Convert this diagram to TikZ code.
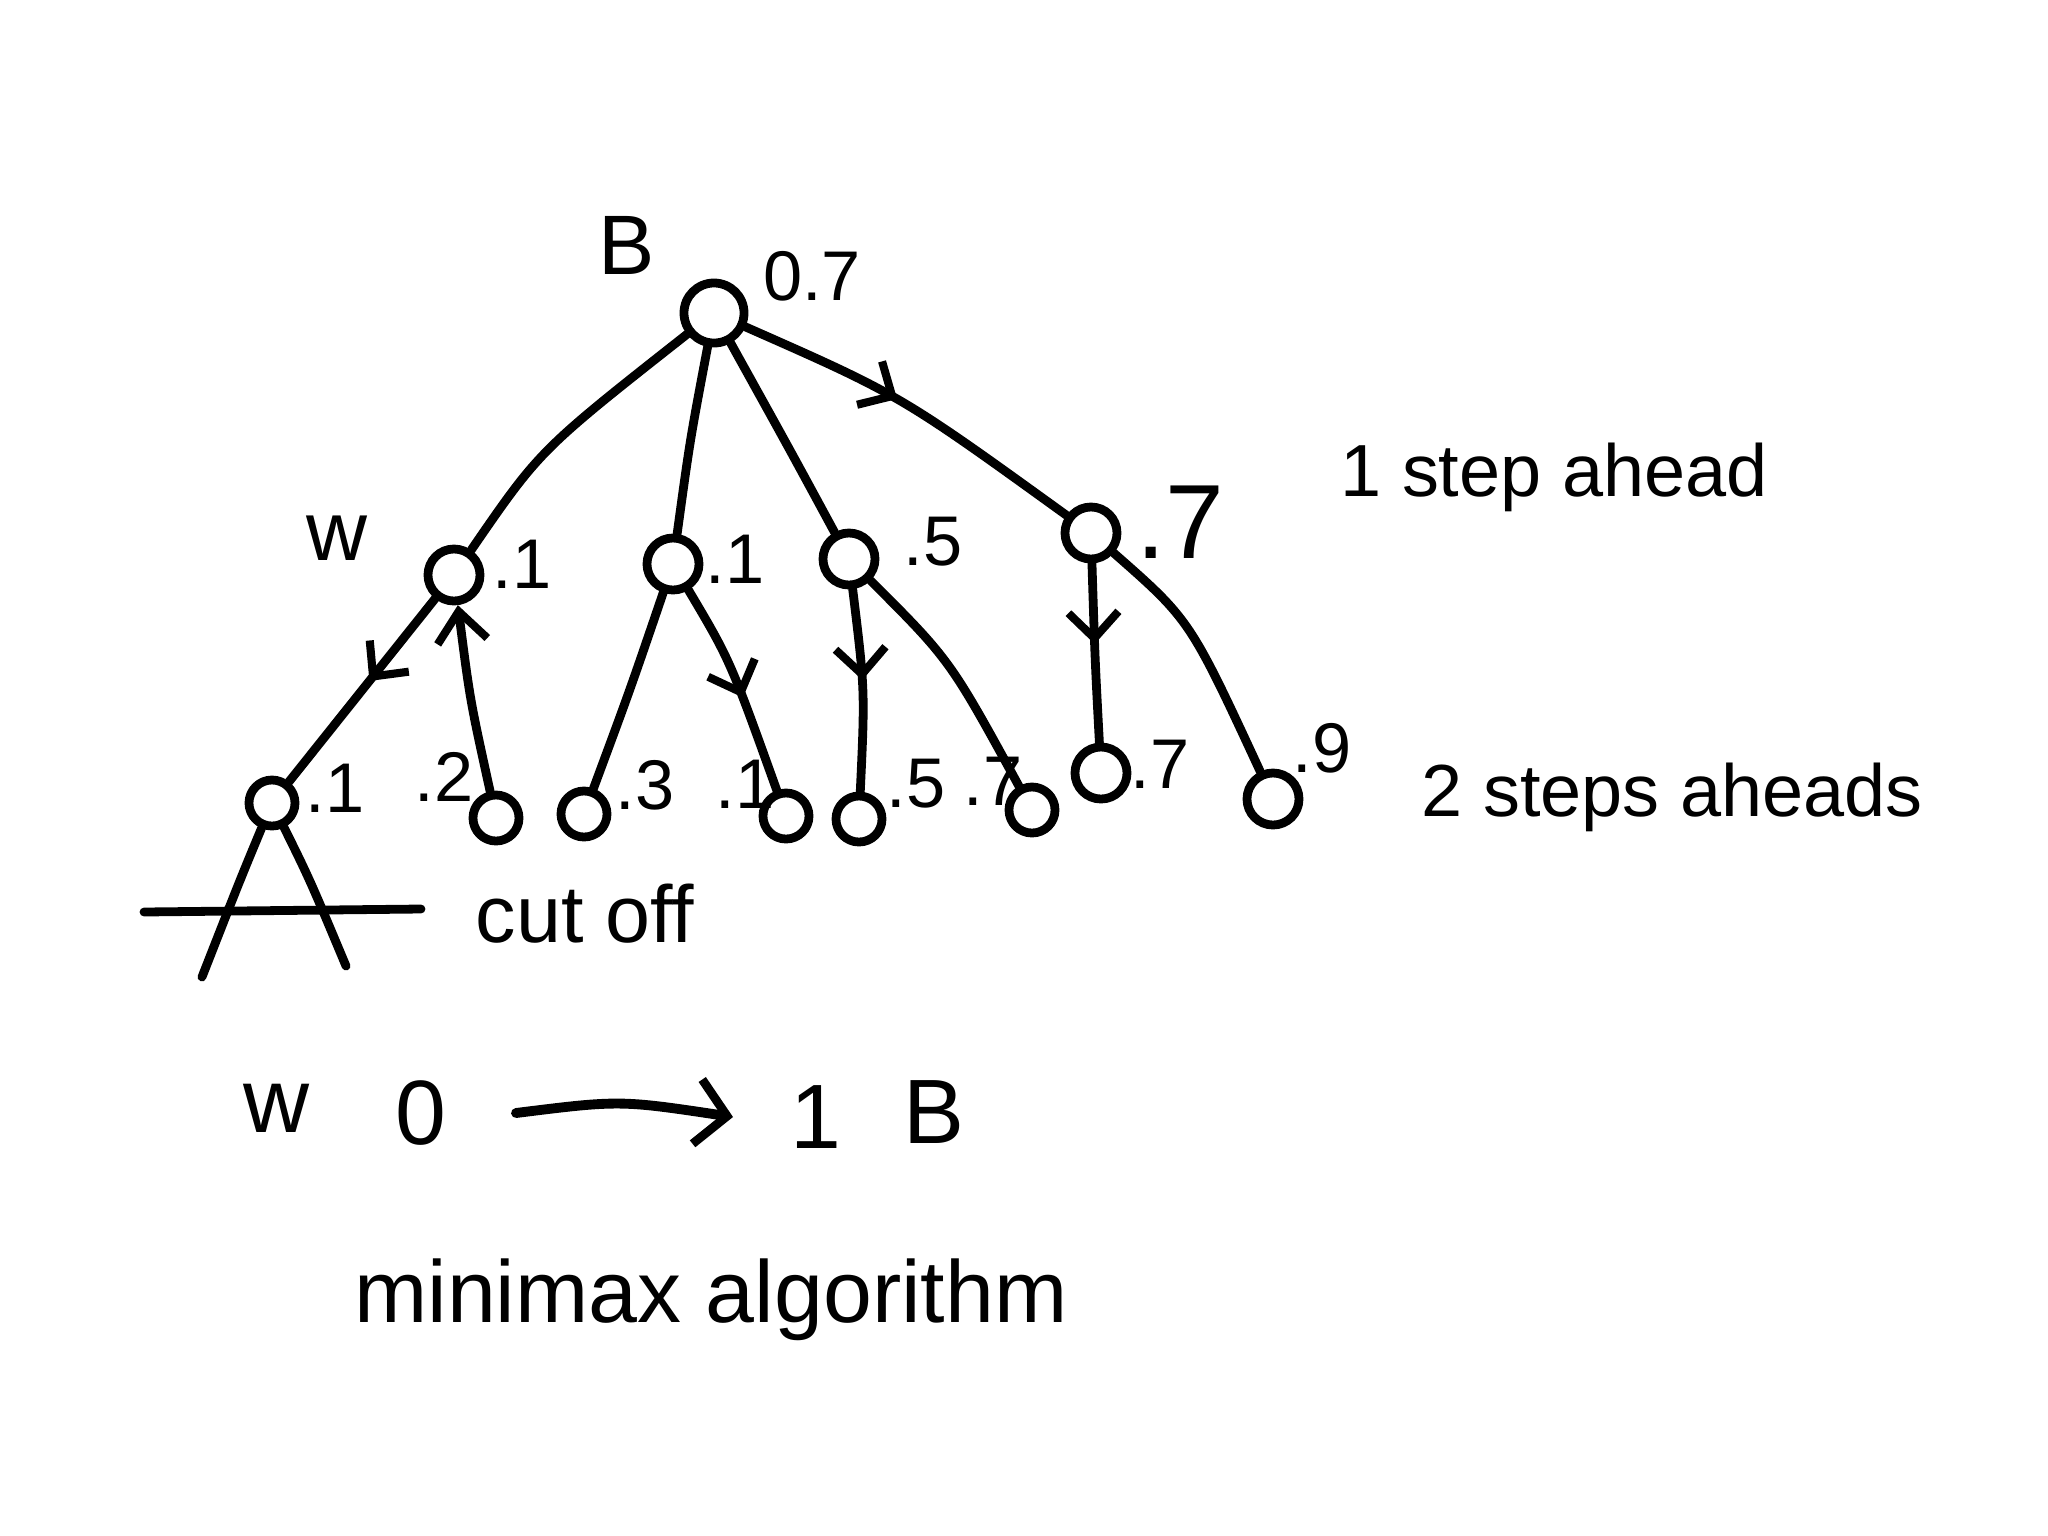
\documentclass[tikz,border=0pt]{standalone}
\usepackage{fontspec}
\setmainfont{Liberation Sans}
\usetikzlibrary{arrows.meta,decorations.markings}
\begin{document}
\begin{tikzpicture}[x=0.01cm,y=-0.01cm,
  line cap=round, line join=round,
  st/.style={circle,draw,line width=2.5pt,minimum size=0.46cm,inner sep=0pt},
  st1/.style={st,minimum size=0.52cm},
  st0/.style={st,minimum size=0.6cm},
  lbl/.style={font=\fontsize{20}{22}\selectfont,inner sep=0pt},
  big/.style={font=\fontsize{26}{28}\selectfont,inner sep=0pt},
  edge/.style={draw,line width=2.5pt},
  midarrow/.style={postaction={decorate},decoration={markings,mark=at position #1 with {\arrow{Straight Barb[length=2.6mm,width=5mm,line width=2.3pt]}}}},
]
\useasboundingbox (0,0) rectangle (2048,1536);

% root
\node[st0] (root) at (714,313) {};
\node[lbl,font=\fontsize{24}{26}\selectfont] (B) at (627,245) {B};
\node[lbl] (rv) at (812,276) {0.7};

% level 1
\node[st1] (n1) at (454,575) {};
\node[lbl,font=\fontsize{24}{26}\selectfont] (w1) at (337,538) {w};
\node[lbl] (v1) at (522,564) {.1};
\node[st1] (n2) at (673,564) {};
\node[lbl] (v2) at (735,559) {.1};
\node[st1] (n3) at (849,559) {};
\node[lbl] (v3) at (933,542) {.5};
\node[st1] (n4) at (1091,533) {};
\node[lbl,font=\fontsize{30}{32}\selectfont] (v4) at (1180,522) {.7};

% level 2
\node[st] (a) at (272,803) {};
\node[lbl] (va) at (335,788) {.1};
\node[st] (b) at (496,818) {};
\node[lbl] (vb) at (444,777) {.2};
\node[st] (c) at (584,814) {};
\node[lbl] (vc) at (645,785) {.3};
\node[st] (d) at (786,816) {};
\node[lbl] (vd) at (745,784) {.1};
\node[st] (e) at (859,819) {};
\node[lbl] (ve) at (916,784) {.5};
\node[st] (f) at (1032,810) {};
\node[lbl] (vf) at (993,781) {.7};
\node[st1] (g) at (1101,773) {};
\node[lbl] (vg) at (1160,764) {.7};
\node[st1] (h) at (1273,799) {};
\node[lbl] (vh) at (1322,748) {.9};

% side texts
\node[lbl,font=\fontsize{21}{23}\selectfont] (s1) at (1554,477) {1 step ahead};
\node[lbl,font=\fontsize{21}{23}\selectfont] (s2) at (1672,797) {2 steps aheads};
\node[lbl,font=\fontsize{23}{25}\selectfont] (co) at (585,914) {cut off};
\node[lbl,font=\fontsize{25}{27}\selectfont] (mm) at (711,1300) {minimax algorithm};

% edges root
\draw[edge] (root) .. controls (540,450) .. (n1);
\draw[edge] (root) .. controls (690,440) .. (n2);
\draw[edge] (root) .. controls (790,450) .. (n3);
\draw[edge,midarrow=0.45] (root) .. controls (900,395) .. (n4);

% level 1 -> 2
\draw[edge,midarrow=0.45] (n1) -- (a);
\draw[edge,-{Straight Barb[length=3mm,width=5mm,line width=2.3pt]}] (b) .. controls (470,700) .. (n1);
\draw[edge] (n2) .. controls (630,690) .. (c);
\draw[edge,midarrow=0.55] (n2) .. controls (730,660) .. (d);
\draw[edge,midarrow=0.45] (n3) .. controls (865,690) .. (e);
\draw[edge] (n3) .. controls (950,660) .. (f);
\draw[edge,midarrow=0.45] (n4) .. controls (1095,660) .. (g);
\draw[edge] (n4) .. controls (1190,620) .. (h);

% cut off
\coordinate (cl) at (202,977);
\coordinate (cr) at (346,966);
\coordinate (hl) at (144,912);
\coordinate (hr) at (421,909);
\draw[edge] (a) .. controls (240,880) .. (cl);
\draw[edge] (a) .. controls (310,880) .. (cr);
\draw[edge] (hl) -- (hr);

% bottom line
\node[big] (bw) at (277,1108) {w};
\node[big] (b0) at (421,1113) {0};
\node[big] (b1) at (816,1117) {1};
\node[big] (bB) at (934,1112) {B};
\coordinate (ar0) at (516,1113);
\coordinate (ar1) at (733,1117);
\draw[edge,line width=2.8pt,-{Straight Barb[length=3mm,width=6.5mm,line width=2.5pt]}] (ar0) .. controls (620,1100) .. (ar1);
\end{tikzpicture}
\end{document}
